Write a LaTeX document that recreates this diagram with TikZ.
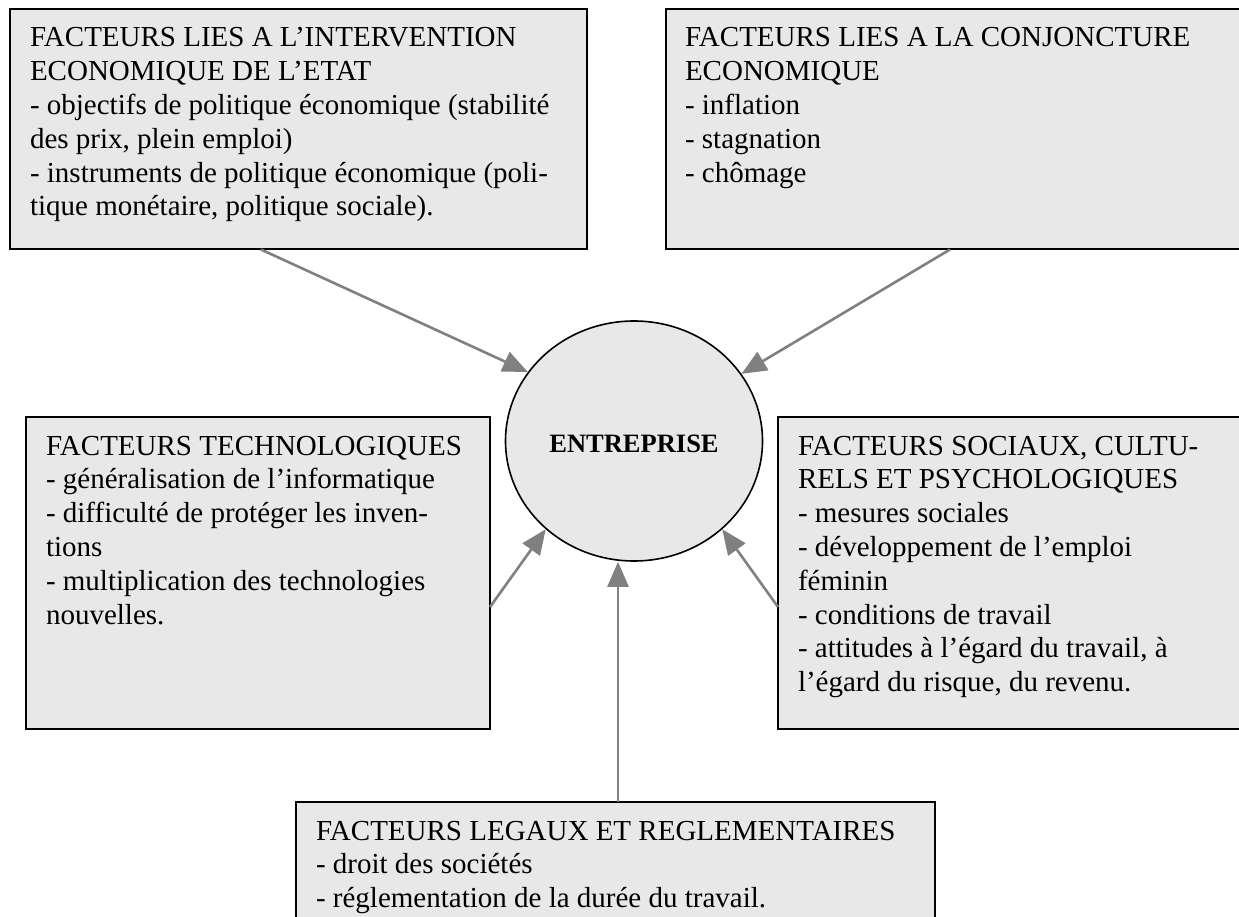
\documentclass[tikz,border=0pt]{standalone}
\usepackage{fontspec}
\setmainfont{Liberation Serif}
\usetikzlibrary{shapes.geometric,arrows.meta,calc}
\definecolor{boxgray}{RGB}{232,232,232}
\definecolor{arrgray}{RGB}{128,128,128}
\begin{document}
\begin{tikzpicture}[x=1pt,y=-1pt,
  box/.style={draw=black, line width=2pt, fill=boxgray, inner sep=0pt, outer sep=0pt, anchor=north west},
  txt/.style={anchor=north west, inner sep=0pt, outer sep=0pt, align=left, font=\fontsize{29}{33.8}\selectfont},
  arr/.style={draw=arrgray, line width=2.6pt, -{Triangle[length=25pt,width=21pt]}}]
\useasboundingbox (0,0) rectangle (1239,917);
\clip (0,0) rectangle (1239,917);

% boxes
\node[box, minimum width=577pt, minimum height=240pt] (b1) at (9.5,9.5) {};
\node[box, minimum width=600pt, minimum height=240pt] (b2) at (666,9.5) {};
\node[box, minimum width=464pt, minimum height=312pt] (b3) at (26,417) {};
\node[box, minimum width=480pt, minimum height=312pt] (b4) at (778,417) {};
\node[box, minimum width=639pt, minimum height=140pt] (b5) at (296,802) {};

% texts
\node[txt] (t1) at (30,22) {\rule{0pt}{25pt}FACTEURS LIES A L’INTERVENTION\\ECONOMIQUE DE L’ETAT\\- objectifs de politique économique (stabilité\\des prix, plein emploi)\\- instruments de politique économique (poli-\\tique monétaire, politique sociale).};
\node[txt] (t2) at (685,22) {\rule{0pt}{25pt}FACTEURS LIES A LA CONJONCTURE\\ECONOMIQUE\\- inflation\\- stagnation\\- chômage};
\node[txt] (t3) at (46,430) {\rule{0pt}{25pt}FACTEURS TECHNOLOGIQUES\\- généralisation de l’informatique\\- difficulté de protéger les inven-\\tions\\- multiplication des technologies\\nouvelles.};
\node[txt] (t4) at (798,430) {\rule{0pt}{25pt}FACTEURS SOCIAUX, CULTU-\\RELS ET PSYCHOLOGIQUES\\- mesures sociales\\- développement de l’emploi\\féminin\\- conditions de travail\\- attitudes à l’égard du travail, à\\l’égard du risque, du revenu.};
\node[txt] (t5) at (316,815) {\rule{0pt}{25pt}FACTEURS LEGAUX ET REGLEMENTAIRES\\- droit des sociétés\\- réglementation de la durée du travail.};

% centre
\node[ellipse, draw=black, line width=1.6pt, fill=boxgray, minimum width=257pt, minimum height=240pt, inner sep=0pt] (c) at (634,441) {};
\node[font=\bfseries\fontsize{26.5}{30}\selectfont, inner sep=0pt] (lab) at (634,444) {ENTREPRISE};

% connectors
\coordinate (s1) at ([xshift=251.5pt]b1.south west);
\coordinate (s2) at ([xshift=284pt]b2.south west);
\coordinate (s3) at ([yshift=-190pt]b3.north east);
\coordinate (s4) at ([yshift=-190pt]b4.north west);
\coordinate (s5) at ([xshift=322pt]b5.north west);
\draw[arr] (s1) -- (c.147.6);
\draw[arr] (s2) -- (c.32.5);
\draw[arr] (s3) -- (c.225.3);
\draw[arr] (s4) -- (c.315.3);
\draw[arr] (s5) -- (s5 |- c.south);
\end{tikzpicture}
\end{document}
